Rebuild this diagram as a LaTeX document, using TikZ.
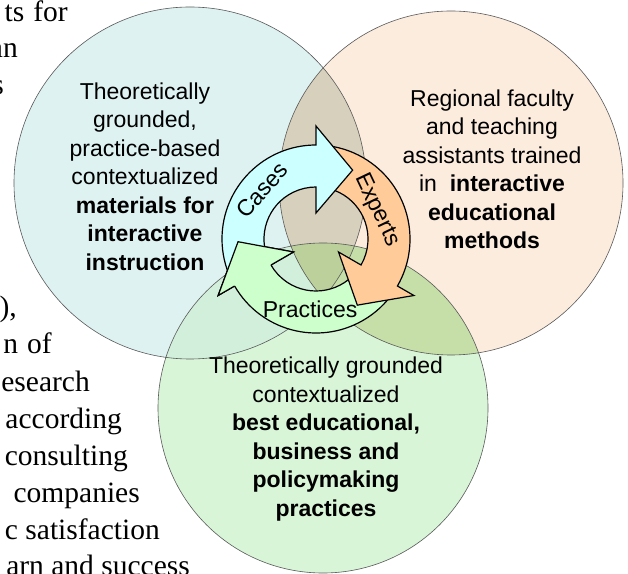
\documentclass[tikz,border=0pt]{standalone}
\usepackage{fontspec}
\setmainfont{Liberation Serif}
\newfontfamily\vennfont{Liberation Sans}
\usetikzlibrary{calc}
\definecolor{casesblue}{RGB}{204,255,255}
\definecolor{expertorange}{RGB}{255,204,153}
\definecolor{practgreen}{RGB}{204,255,204}
\definecolor{leftveil}{RGB}{223,242,242}
\definecolor{rightveil}{RGB}{252,236,222}
\definecolor{lowveil}{RGB}{216,245,216}
\definecolor{lrveil}{RGB}{214,208,188}
\definecolor{rgveil}{RGB}{198,222,168}
\definecolor{lgveil}{RGB}{210,239,220}
\definecolor{allveil}{RGB}{188,208,156}

% ring of the cycle arrows
\def\ringin{52}
\def\ringout{94}
\def\headin{26}
\def\headout{113}
\def\tipr{78}
% #1 fill, #2 tail angle, #3 head base angle, #4 tip angle
\newcommand{\cyclearrow}[4]{%
  \filldraw[arrowpart,fill=#1] (#2:\ringin) arc[start angle=#2,end angle=#3,radius=\ringin]
    -- (#3:\headin) -- (#4:\tipr) -- (#3:\headout) -- (#3:\ringout)
    arc[start angle=#3,end angle=#2,radius=\ringout] -- cycle;}

\tikzset{
  pagetext/.style={inner sep=0pt,font=\fontsize{29.5}{36.8}\selectfont},
  venntext/.style={inner sep=0pt,align=center,font=\vennfont\fontsize{23}{28.5}\selectfont},
  cyclelabel/.style={inner sep=0pt,font=\vennfont\fontsize{23}{28.5}\selectfont},
  vennline/.style={draw=black!65,line width=0.6pt},
  arrowpart/.style={draw=black,line width=1.2pt,line join=miter}
}

\begin{document}
\begin{tikzpicture}[x=1pt,y=1pt]
  \fill[white] (0,0) rectangle (628,573);
  \useasboundingbox (0,0) rectangle (628,573);

  % wrapped page text on the left
  \foreach \n/\x/\y/\t in {1/68/551/{ts\hspace{9pt}for},2/18/515/{an},3/4/478/{s},
      4/17/256/{),},5/52/219/{n\hspace{9pt}of},6/90/182/{esearch},7/122/145/{according},
      8/128/108/{consulting},9/140/71/{companies},10/160/34/{c satisfaction},
      11/190/-2/{arn and success}}
    \node[pagetext,anchor=base east] (page\n) at (\x,\y) {\t};

  % the three circles and their overlaps
  \coordinate (lc) at (190,390);
  \coordinate (rc) at (451,390);
  \coordinate (gc) at (323,165);
  \fill[leftveil] (lc) circle (176);
  \fill[rightveil] (rc) circle (172);
  \fill[lowveil] (gc) circle (165);
  \begin{scope}
    \clip (lc) circle (176);
    \fill[lrveil] (rc) circle (172);
    \fill[lgveil] (gc) circle (165);
  \end{scope}
  \begin{scope}
    \clip (rc) circle (172);
    \fill[rgveil] (gc) circle (165);
  \end{scope}
  \begin{scope}
    \clip (lc) circle (176);
    \clip (rc) circle (172);
    \fill[allveil] (gc) circle (165);
  \end{scope}
  \draw[vennline] (lc) circle (176) (rc) circle (172) (gc) circle (165);

  \node[venntext] (materials) at (145,396.4) {Theoretically\\grounded,\\practice-based\\contextualized\\
    \textbf{materials for}\\\textbf{interactive}\\\textbf{instruction}};
  \node[venntext] (faculty) at (492,403.9) {Regional faculty\\and teaching\\assistants trained\\
    in~ \textbf{interactive}\\\textbf{educational}\\\textbf{methods}};
  \node[venntext] (bestpract) at (326,134) {Theoretically grounded\\contextualized\\
    \textbf{best educational,}\\\textbf{business and}\\\textbf{policymaking}\\\textbf{practices}};

  % cycle arrows in the middle
  \begin{scope}[shift={(316,334)}]
    \cyclearrow{practgreen}{-34}{-150}{-178}
    \cyclearrow{expertorange}{86}{-30}{-58}
    \cyclearrow{casesblue}{206}{90}{62}
    % head of Practices lies over the tail of Cases
    \filldraw[arrowpart,fill=practgreen] (-150:\ringin) -- (-150:\headin) -- (-178:\tipr)
      -- (-150:\headout) -- (-150:\ringout);
    \node[cyclelabel,rotate=48] (cases) at (137.8:73) {Cases};
    \node[cyclelabel,rotate=-64.6] (experts) at (25.4:67.5) {Experts};
    \node[cyclelabel] (practices) at (265.2:71) {Practices};
  \end{scope}
\end{tikzpicture}
\end{document}
